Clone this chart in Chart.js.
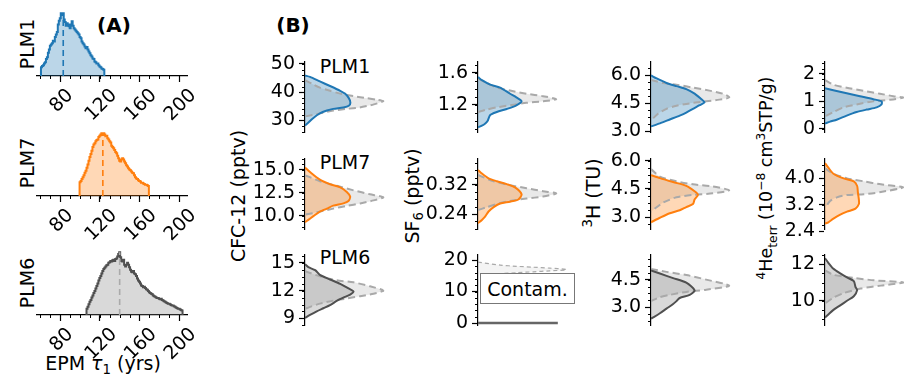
<!DOCTYPE html>
<html>
<head>
<meta charset="utf-8">
<title>EPM tau1 and tracer posteriors</title>
<script src="https://cdn.jsdelivr.net/npm/chart.js@4.4.1/dist/chart.umd.min.js"></script>
<style>
  html, body { margin: 0; padding: 0; background: #fff; }
  body { position: relative; width: 904px; height: 379px; overflow: hidden; font-family: 'DejaVu Sans', sans-serif; color: #000; }
  canvas { position: absolute; }
  .t { position: absolute; font-size: 19px; white-space: nowrap; transform: translate(-50%, -50%); line-height: 1; }
  .v { transform: translate(-50%, -50%) rotate(-90deg); }
  .b { font-weight: bold; font-size: 20px; }
  sub, sup { font-size: 70%; line-height: 0; }
  #contam { position: absolute; left: 480px; top: 273px; width: 95px; height: 31px; border: 1.5px solid #777; box-sizing: border-box;
            font-size: 19px; display: flex; align-items: center; justify-content: center; background: #fff; z-index: 2; }
</style>
</head>
<body>
<div class="t b" style="left:114px;top:25px">(A)</div>
<div class="t b" style="left:293px;top:25px">(B)</div>
<div class="t v" style="left:27px;top:44px">PLM1</div>
<div class="t v" style="left:27px;top:163px">PLM7</div>
<div class="t v" style="left:27px;top:283px">PLM6</div>
<div class="t" style="left:103px;top:363px">EPM <i>τ</i><sub>1</sub> (yrs)</div>
<div class="t" style="left:345px;top:66px">PLM1</div>
<div class="t" style="left:345px;top:162px">PLM7</div>
<div class="t" style="left:345px;top:257px">PLM6</div>
<div class="t v" style="left:238px;top:196px">CFC-12 (pptv)</div>
<div class="t v" style="left:412px;top:196px">SF<sub>6</sub> (pptv)</div>
<div class="t v" style="left:593px;top:193px"><sup>3</sup>H (TU)</div>
<div class="t v" style="left:767px;top:178px;font-size:17.5px"><sup>4</sup>He<sub>terr</sub> (10<sup>−8</sup> cm<sup>3</sup>STP/g)</div>
<div id="contam">Contam.</div>

<script>
// ---------- (A) EPM tau1 histograms, normalised heights, 1-yr bins ----------
const plm1Start = 61;
const plm1Hist = [0.14, 0.16, 0.17, 0.2, 0.22, 0.27, 0.3, 0.37, 0.42, 0.48,
  0.5, 0.52, 0.56, 0.55, 0.62, 0.66, 0.7, 0.82, 0.88, 0.92,
  1.0, 0.97, 1.0, 0.9, 0.86, 0.8, 0.84, 0.82, 0.79, 0.76,
  0.82, 0.87, 0.8, 0.76, 0.74, 0.72, 0.7, 0.68, 0.66, 0.62,
  0.6, 0.55, 0.52, 0.5, 0.47, 0.44, 0.46, 0.42, 0.39, 0.36,
  0.33, 0.31, 0.28, 0.27, 0.23, 0.22, 0.2, 0.2, 0.17, 0.15,
  0.14, 0.12, 0.11, 0.1];
const plm7Start = 100;
const plm7Hist = [0.22, 0.24, 0.27, 0.3, 0.33, 0.37, 0.4, 0.45, 0.5, 0.56,
  0.62, 0.67, 0.72, 0.78, 0.82, 0.84, 0.87, 0.89, 0.9, 0.94,
  0.96, 0.98, 1.0, 0.97, 1.0, 0.98, 0.95, 0.96, 0.92, 0.9,
  0.87, 0.85, 0.8, 0.78, 0.76, 0.73, 0.7, 0.68, 0.64, 0.6,
  0.56, 0.55, 0.58, 0.6, 0.58, 0.55, 0.52, 0.49, 0.47, 0.44,
  0.42, 0.41, 0.39, 0.37, 0.36, 0.33, 0.3, 0.28, 0.27, 0.25,
  0.24, 0.23, 0.21, 0.21, 0.2, 0.19, 0.18, 0.18, 0.17, 0.16];
const plm6Start = 107;
const plm6Hist = [0.1, 0.13, 0.17,
  0.21, 0.24, 0.28, 0.31, 0.35, 0.38, 0.42, 0.46, 0.5, 0.55,
  0.59, 0.62, 0.66, 0.7, 0.73, 0.75, 0.77, 0.79, 0.8, 0.83,
  0.84, 0.86, 0.85, 0.87, 0.88, 0.86, 0.89, 0.9, 0.93, 0.97,
  1.0, 0.92, 0.86, 0.85, 0.88, 0.8, 0.77, 0.8, 0.83, 0.8,
  0.76, 0.72, 0.69, 0.68, 0.7, 0.66, 0.65, 0.62, 0.58, 0.55,
  0.53, 0.5, 0.47, 0.46, 0.44, 0.45, 0.43, 0.41, 0.4, 0.38,
  0.36, 0.35, 0.34, 0.33, 0.31, 0.3, 0.29, 0.28, 0.27, 0.27,
  0.26, 0.25, 0.26, 0.24, 0.23, 0.22, 0.21, 0.2, 0.19, 0.18,
  0.18, 0.17, 0.16, 0.15, 0.15, 0.14, 0.13, 0.12, 0.11, 0.1,
  0.1, 0.09, 0.08, 0.07];
const tauMedians = [83, 123, 140];
const tauTicks = [80, 120, 160, 200];
const tauLabels = ['80', '120', '160', '200'];

// ---------- (B) posterior (solid) and prior (dashed) densities ----------
// CFC-12 (pptv)
const cfc1Conc = [45.9, 45.4, 43.8, 42.2, 40.5, 39.5, 37.9, 36.3, 35.2, 34.6, 34.1, 33.5, 32.5, 30.9, 28.9, 28.2];
const cfc1Dens = [0, 0.064, 0.19, 0.32, 0.45, 0.51, 0.56, 0.58, 0.56, 0.49, 0.36, 0.28, 0.19, 0.107, 0.03, 0];
const cfc1PriorConc = [44.3, 42.7, 41.6, 40.5, 39.5, 38.6, 37.9, 37.3, 36.8, 35.7, 34.6, 34.1, 33.5, 32.5, 31.4];
const cfc1PriorDens = [0, 0.107, 0.19, 0.32, 0.45, 0.62, 0.79, 0.92, 1.0, 0.88, 0.7, 0.53, 0.36, 0.19, 0];
const cfc7Conc = [15.27, 14.77, 13.94, 13.44, 13.1, 12.6, 12.1, 11.6, 11.34, 11.1, 10.77, 10.44, 9.94, 9.54, 9.27];
const cfc7Dens = [0, 0.064, 0.19, 0.32, 0.45, 0.534, 0.577, 0.556, 0.49, 0.36, 0.28, 0.19, 0.107, 0.043, 0];
const cfc7PriorConc = [14.44, 13.77, 13.27, 12.77, 12.34, 12.0, 11.67, 11.34, 11.07, 10.77, 10.44, 10.1];
const cfc7PriorDens = [0, 0.19, 0.406, 0.62, 0.83, 1.0, 0.876, 0.705, 0.534, 0.36, 0.19, 0];
const cfc6Conc = [14.85, 14.52, 14.2, 13.7, 13.2, 12.72, 12.23, 11.9, 11.57, 11.25, 10.92, 10.43, 10.1, 9.77, 9.38, 9.05];
const cfc6Dens = [0, 0.043, 0.13, 0.19, 0.32, 0.45, 0.556, 0.62, 0.577, 0.49, 0.41, 0.32, 0.235, 0.15, 0.064, 0];
const cfc6PriorConc = [14.1, 13.54, 13.11, 12.89, 12.46, 12.0, 11.67, 11.4, 11.15, 10.92, 10.6, 10.1, 9.93];
const cfc6PriorDens = [0, 0.19, 0.406, 0.62, 0.83, 1.0, 0.876, 0.705, 0.534, 0.36, 0.19, 0.02, 0];
// SF6 (pptv)
const sf1Conc = [1.55, 1.51, 1.455, 1.417, 1.34, 1.295, 1.246, 1.196, 1.15, 1.112, 1.074, 0.998, 0.968, 0.94, 0.92];
const sf1Dens = [0, 0.05, 0.156, 0.283, 0.41, 0.49, 0.557, 0.49, 0.367, 0.24, 0.156, 0.122, 0.093, 0.05, 0];
const sf1PriorConc = [1.53, 1.474, 1.417, 1.38, 1.34, 1.31, 1.272, 1.246, 1.227, 1.196, 1.17, 1.143, 1.112];
const sf1PriorDens = [0, 0.114, 0.24, 0.41, 0.62, 0.83, 1.0, 0.83, 0.62, 0.41, 0.24, 0.114, 0];
const sf7Conc = [0.361, 0.351, 0.338, 0.33, 0.322, 0.313, 0.294, 0.28, 0.274, 0.269, 0.259, 0.247, 0.234, 0.224, 0.215];
const sf7Dens = [0, 0.05, 0.135, 0.24, 0.367, 0.473, 0.557, 0.515, 0.41, 0.283, 0.2, 0.135, 0.093, 0.05, 0];
const sf7PriorConc = [0.347, 0.33, 0.319, 0.311, 0.3025, 0.2967, 0.288, 0.2825, 0.276, 0.2675, 0.259, 0.251];
const sf7PriorDens = [0, 0.2, 0.41, 0.62, 0.83, 1.0, 0.83, 0.62, 0.41, 0.24, 0.114, 0];
const sf6Conc = [0, 0];
const sf6Dens = [0, 1.02];
const sf6PriorConc = [19.37, 18.4, 18.02, 17.73, 17.44, 17.05, 16.86, 16.57, 16.28, 15.99, 15.7, 15.31];
const sf6PriorDens = [0, 0.283, 0.494, 0.705, 0.916, 1.127, 1.127, 0.916, 0.705, 0.494, 0.283, 0.03];
// 3H (TU)
const h1Conc = [5.99, 5.83, 5.59, 5.42, 5.26, 5.02, 4.73, 4.56, 4.4, 4.21, 4.01, 3.85, 3.64, 3.43, 3.27];
const h1Dens = [0, 0.072, 0.198, 0.325, 0.451, 0.557, 0.641, 0.684, 0.62, 0.536, 0.451, 0.367, 0.24, 0.114, 0];
const h1PriorConc = [5.75, 5.59, 5.5, 5.34, 5.18, 5.02, 4.82, 4.7, 4.61, 4.5, 4.37, 4.21, 3.96, 3.72, 3.64];
const h1PriorDens = [0, 0.156, 0.325, 0.536, 0.747, 0.916, 1.0, 0.873, 0.705, 0.494, 0.325, 0.198, 0.093, 0.03, 0];
const h7Conc = [5.23, 5.07, 4.86, 4.66, 4.37, 4.18, 3.93, 3.69, 3.53, 3.36, 3.2, 2.96, 2.72];
const h7Dens = [0, 0.114, 0.283, 0.451, 0.557, 0.6, 0.557, 0.536, 0.451, 0.367, 0.24, 0.114, 0];
const h7PriorConc = [5.55, 5.15, 4.9, 4.74, 4.63, 4.42, 4.26, 4.18, 4.05, 3.77, 3.45, 3.28];
const h7PriorDens = [0, 0.114, 0.325, 0.536, 0.79, 1.0, 0.79, 0.536, 0.325, 0.156, 0.05, 0];
const h6Conc = [5.0, 4.83, 4.58, 4.33, 3.92, 3.67, 3.5, 3.33, 3.17, 2.92, 2.67, 2.45, 2.38];
const h6Dens = [0, 0.114, 0.283, 0.451, 0.557, 0.494, 0.367, 0.325, 0.283, 0.198, 0.114, 0.03, 0];
const h6PriorConc = [5.08, 4.92, 4.75, 4.5, 4.17, 3.95, 3.83, 3.67, 3.55, 3.33];
const h6PriorDens = [0, 0.198, 0.451, 0.705, 1.0, 0.705, 0.451, 0.24, 0.114, 0];
// 4He terr (1e-8 cm3STP/g)
const he1Conc = [1.48, 1.41, 1.3, 1.19, 1.08, 1.0, 0.89, 0.78, 0.7, 0.61, 0.48, 0.33, 0.26, 0.19];
const he1Dens = [0, 0.106, 0.277, 0.447, 0.617, 0.723, 0.723, 0.66, 0.532, 0.404, 0.277, 0.149, 0.064, 0];
const he1PriorConc = [1.78, 1.61, 1.5, 1.39, 1.28, 1.19, 1.14, 1.06, 1.0, 0.89, 0.78, 0.61, 0.48, 0.43];
const he1PriorDens = [0, 0.106, 0.277, 0.489, 0.702, 0.872, 1.0, 0.83, 0.617, 0.404, 0.234, 0.106, 0.02, 0];
const he7Conc = [4.45, 4.31, 4.13, 3.99, 3.9, 3.76, 3.58, 3.35, 3.22, 3.08, 2.99, 2.9, 2.78, 2.67, 2.63];
const he7Dens = [0, 0.043, 0.108, 0.238, 0.368, 0.411, 0.42, 0.433, 0.433, 0.39, 0.281, 0.195, 0.108, 0.043, 0];
const he7PriorConc = [4.29, 4.13, 3.99, 3.9, 3.81, 3.72, 3.58, 3.51, 3.49, 3.42, 3.31, 3.17, 3.13];
const he7PriorDens = [0, 0.108, 0.281, 0.498, 0.714, 1.0, 0.714, 0.498, 0.281, 0.152, 0.065, 0.02, 0];
const he6Conc = [12.33, 12.08, 11.75, 11.5, 11.28, 11.08, 10.75, 10.58, 10.25, 10.0, 9.75, 9.5, 9.25, 9.08];
const he6Dens = [0, 0.043, 0.108, 0.195, 0.281, 0.368, 0.39, 0.411, 0.368, 0.281, 0.195, 0.108, 0.043, 0];
const he6PriorConc = [11.67, 11.42, 11.25, 11.12, 11.0, 10.83, 10.67, 10.42, 10.17, 9.92, 9.83];
const he6PriorDens = [0, 0.108, 0.368, 0.628, 1.0, 0.714, 0.455, 0.238, 0.108, 0.022, 0];

// axis ticks per panel
const cfc1Ticks = [30, 40, 50],     cfc1Labels = ['30', '40', '50'];
const cfc7Ticks = [10, 12.5, 15],   cfc7Labels = ['10.0', '12.5', '15.0'];
const cfc6Ticks = [9, 12, 15],      cfc6Labels = ['9', '12', '15'];
const sf1Ticks = [1.2, 1.6],        sf1Labels = ['1.2', '1.6'];
const sf7Ticks = [0.24, 0.32],      sf7Labels = ['0.24', '0.32'];
const sf6Ticks = [0, 10, 20],       sf6Labels = ['0', '10', '20'];
const h1Ticks = [3, 4.5, 6],        h1Labels = ['3.0', '4.5', '6.0'];
const h7Ticks = [3, 4.5, 6],        h7Labels = ['3.0', '4.5', '6.0'];
const h6Ticks = [3, 4.5],           h6Labels = ['3.0', '4.5'];
const he1Ticks = [0, 1, 2],         he1Labels = ['0', '1', '2'];
const he7Ticks = [2.4, 3.2, 4.0],   he7Labels = ['2.4', '3.2', '4.0'];
const he6Ticks = [10, 12],          he6Labels = ['10', '12'];

// colours
const BLUE = '#1f77b4', ORANGE = '#ff7f0e', DARK = '#505050';
const BLUE_F = 'rgba(31,119,180,0.3)', ORANGE_F = 'rgba(255,127,14,0.3)', GRAY_F = 'rgba(128,128,128,0.3)';
const PRIOR = '#a9a9a9', PRIOR_F = 'rgba(200,200,200,0.4)';
const FONT = "19px 'DejaVu Sans', sans-serif";

Chart.defaults.font.family = "'DejaVu Sans', sans-serif";
Chart.defaults.font.size = 19;
Chart.defaults.color = '#000';

// short minor ticks, drawn through the scale
const minorTicks = {
  id: 'minorTicks',
  afterDraw(chart, args, opts) {
    const scale = chart.scales[opts.axis];
    if (!scale || !opts.step) return;
    const ctx = chart.ctx;
    ctx.save();
    ctx.strokeStyle = '#000';
    ctx.lineWidth = 1;
    const first = Math.ceil(scale.min / opts.step - 1e-9);
    for (let k = first; k * opts.step <= scale.max + 1e-9; k++) {
      const p = Math.round(scale.getPixelForValue(k * opts.step)) + 0.5;
      ctx.beginPath();
      if (scale.isHorizontal()) { ctx.moveTo(p, scale.top); ctx.lineTo(p, scale.top + opts.len); }
      else { ctx.moveTo(scale.right, p); ctx.lineTo(scale.right - opts.len, p); }
      ctx.stroke();
    }
    ctx.restore();
  }
};

// 45 degree labels centred under their tick (matplotlib style)
const rotLabels = {
  id: 'rotLabels',
  afterDraw(chart, args, opts) {
    const scale = chart.scales.x;
    const ctx = chart.ctx;
    ctx.save();
    ctx.font = FONT;
    ctx.fillStyle = '#000';
    ctx.textAlign = 'center';
    ctx.textBaseline = 'alphabetic';
    opts.values.forEach((v, i) => {
      const m = ctx.measureText(opts.labels[i]);
      const a = m.actualBoundingBoxAscent, d = m.actualBoundingBoxDescent;
      const box = (m.width + a + d) * Math.SQRT1_2;
      const cx = scale.getPixelForValue(v);
      const cy = scale.top + opts.offset + box / 2;
      ctx.save();
      ctx.translate(cx, cy);
      ctx.rotate(-Math.PI / 4);
      ctx.fillText(opts.labels[i], 0, (a - d) / 2);
      ctx.restore();
    });
    ctx.restore();
  }
};

function addCanvas(left, top, w, h) {
  const c = document.createElement('canvas');
  c.width = w; c.height = h;
  c.style.left = left + 'px';
  c.style.top = top + 'px';
  document.body.appendChild(c);
  return c;
}

const axisStyle = {
  border: { display: true, color: '#000', width: 1.2 },
  grid: { display: true, drawOnChartArea: false, drawTicks: true, tickLength: 6, tickColor: '#000', tickWidth: 1.2 }
};

// ---- panel A ----
const histTop = [10, 130, 249];

function drawHist(row, start, heights, median, line, fill, medColor) {
  const pts = [{ x: start - 0.5, y: 0 }];
  heights.forEach((h, i) => pts.push({ x: start - 0.5 + i, y: h }));
  pts.push({ x: start - 0.5 + heights.length, y: 0 });
  const hMed = heights[Math.round(median - start)];
  const canvas = addCanvas(0, histTop[row] - 4, 210, 4 + 66 + 45);
  new Chart(canvas, {
    type: 'line',
    data: {
      datasets: [
        { data: [{ x: median, y: 0 }, { x: median, y: hMed }], borderColor: medColor, borderWidth: 1.6,
          borderDash: [6, 4], pointRadius: 0, fill: false },
        { data: pts, stepped: true, borderColor: line, backgroundColor: fill, borderWidth: 2,
          pointRadius: 0, fill: 'origin' }
      ]
    },
    options: {
      responsive: false,
      animation: false,
      layout: { padding: { left: 37, right: 23, top: 4, bottom: 0 } },
      plugins: {
        legend: { display: false }, tooltip: { enabled: false },
        minorTicks: { axis: 'x', step: 10, len: 3 },
        rotLabels: { values: tauTicks, labels: tauLabels, offset: 10 }
      },
      scales: {
        x: {
          type: 'linear', min: 56.5, max: 208,
          afterBuildTicks: s => { s.ticks = tauTicks.map(v => ({ value: v })); },
          afterFit: s => { s.height = 45; },
          ...axisStyle,
          ticks: { display: false }
        },
        y: { display: false, min: 0, max: 1.05 }
      }
    },
    plugins: [minorTicks, rotLabels]
  });
}

drawHist(0, plm1Start, plm1Hist, tauMedians[0], BLUE, BLUE_F, BLUE);
drawHist(1, plm7Start, plm7Hist, tauMedians[1], ORANGE, ORANGE_F, ORANGE);
drawHist(2, plm6Start, plm6Hist, tauMedians[2], DARK, GRAY_F, '#aaaaaa');

// ---- panel B ----
const colAxis = [305, 478, 651, 825];
const rowTop = [58, 155, 251];
const AXW = 55, PW = 90, PH = 78;

function pts(conc, dens) { return conc.map((c, i) => ({ x: dens[i], y: c })); }

function drawDensity(col, row, p) {
  const canvas = addCanvas(colAxis[col] - AXW, rowTop[row] - 12, AXW + PW, PH + 24);
  const post = p.contam
    ? { data: pts(p.conc, p.dens), borderColor: '#666', borderWidth: 2.5, pointRadius: 0, fill: false }
    : { data: pts(p.conc, p.dens), borderColor: p.line, backgroundColor: p.fill, borderWidth: 2,
        pointRadius: 0, tension: 0.25, fill: 'origin' };
  const prior = { data: pts(p.priorConc, p.priorDens), borderColor: PRIOR, backgroundColor: p.contam ? 'rgba(200,200,200,0.2)' : PRIOR_F,
    borderWidth: p.contam ? 1.2 : 2, borderDash: p.contam ? [4, 3] : [7, 4], pointRadius: 0, tension: 0.25, fill: 'origin' };
  new Chart(canvas, {
    type: 'line',
    data: { datasets: [post, prior] },
    options: {
      responsive: false,
      animation: false,
      indexAxis: 'y',
      layout: { padding: { left: 0, right: 0, top: 12, bottom: 12 } },
      plugins: {
        legend: { display: false }, tooltip: { enabled: false },
        filler: { drawTime: 'beforeDatasetsDraw' },
        minorTicks: { axis: 'y', step: p.minor, len: 3 }
      },
      scales: {
        x: { type: 'linear', display: false, min: 0, max: 1.15 },
        y: {
          type: 'linear', position: 'left', min: p.min, max: p.max,
          afterBuildTicks: s => { s.ticks = p.ticks.map(v => ({ value: v })); },
          afterFit: s => { s.width = AXW; },
          ...axisStyle,
          ticks: { padding: 4, autoSkip: false, callback: (v, i) => p.labels[i] }
        }
      }
    },
    plugins: [minorTicks]
  });
}

drawDensity(0, 0, { conc: cfc1Conc, dens: cfc1Dens, priorConc: cfc1PriorConc, priorDens: cfc1PriorDens, line: BLUE, fill: BLUE_F,
  min: 25.7, max: 50.9, ticks: cfc1Ticks, labels: cfc1Labels, minor: 2 });
drawDensity(0, 1, { conc: cfc7Conc, dens: cfc7Dens, priorConc: cfc7PriorConc, priorDens: cfc7PriorDens, line: ORANGE, fill: ORANGE_F,
  min: 8.47, max: 16.27, ticks: cfc7Ticks, labels: cfc7Labels, minor: 0.625 });
drawDensity(0, 2, { conc: cfc6Conc, dens: cfc6Dens, priorConc: cfc6PriorConc, priorDens: cfc6PriorDens, line: DARK, fill: GRAY_F,
  min: 8.23, max: 15.9, ticks: cfc6Ticks, labels: cfc6Labels, minor: 0.75 });

drawDensity(1, 0, { conc: sf1Conc, dens: sf1Dens, priorConc: sf1PriorConc, priorDens: sf1PriorDens, line: BLUE, fill: BLUE_F,
  min: 0.854, max: 1.745, ticks: sf1Ticks, labels: sf1Labels, minor: 0.1 });
drawDensity(1, 1, { conc: sf7Conc, dens: sf7Dens, priorConc: sf7PriorConc, priorDens: sf7PriorDens, line: ORANGE, fill: ORANGE_F,
  min: 0.1975, max: 0.3925, ticks: sf7Ticks, labels: sf7Labels, minor: 0.02 });
drawDensity(1, 2, { conc: sf6Conc, dens: sf6Dens, priorConc: sf6PriorConc, priorDens: sf6PriorDens, contam: true,
  min: -0.81, max: 21.8, ticks: sf6Ticks, labels: sf6Labels, minor: 2 });

drawDensity(2, 0, { conc: h1Conc, dens: h1Dens, priorConc: h1PriorConc, priorDens: h1PriorDens, line: BLUE, fill: BLUE_F,
  min: 2.94, max: 6.74, ticks: h1Ticks, labels: h1Labels, minor: 0.375 });
drawDensity(2, 1, { conc: h7Conc, dens: h7Dens, priorConc: h7PriorConc, priorDens: h7PriorDens, line: ORANGE, fill: ORANGE_F,
  min: 2.33, max: 6.12, ticks: h7Ticks, labels: h7Labels, minor: 0.375 });
drawDensity(2, 2, { conc: h6Conc, dens: h6Dens, priorConc: h6PriorConc, priorDens: h6PriorDens, line: DARK, fill: GRAY_F,
  min: 2.0, max: 5.87, ticks: h6Ticks, labels: h6Labels, minor: 0.375 });

drawDensity(3, 0, { conc: he1Conc, dens: he1Dens, priorConc: he1PriorConc, priorDens: he1PriorDens, line: BLUE, fill: BLUE_F,
  min: -0.14, max: 2.46, ticks: he1Ticks, labels: he1Labels, minor: 0.2 });
drawDensity(3, 1, { conc: he7Conc, dens: he7Dens, priorConc: he7PriorConc, priorDens: he7PriorDens, line: ORANGE, fill: ORANGE_F,
  min: 2.45, max: 4.59, ticks: he7Ticks, labels: he7Labels, minor: 0.2 });
drawDensity(3, 2, { conc: he6Conc, dens: he6Dens, priorConc: he6PriorConc, priorDens: he6PriorDens, line: DARK, fill: GRAY_F,
  min: 8.64, max: 12.54, ticks: he6Ticks, labels: he6Labels, minor: 0.5 });
</script>
</body>
</html>
